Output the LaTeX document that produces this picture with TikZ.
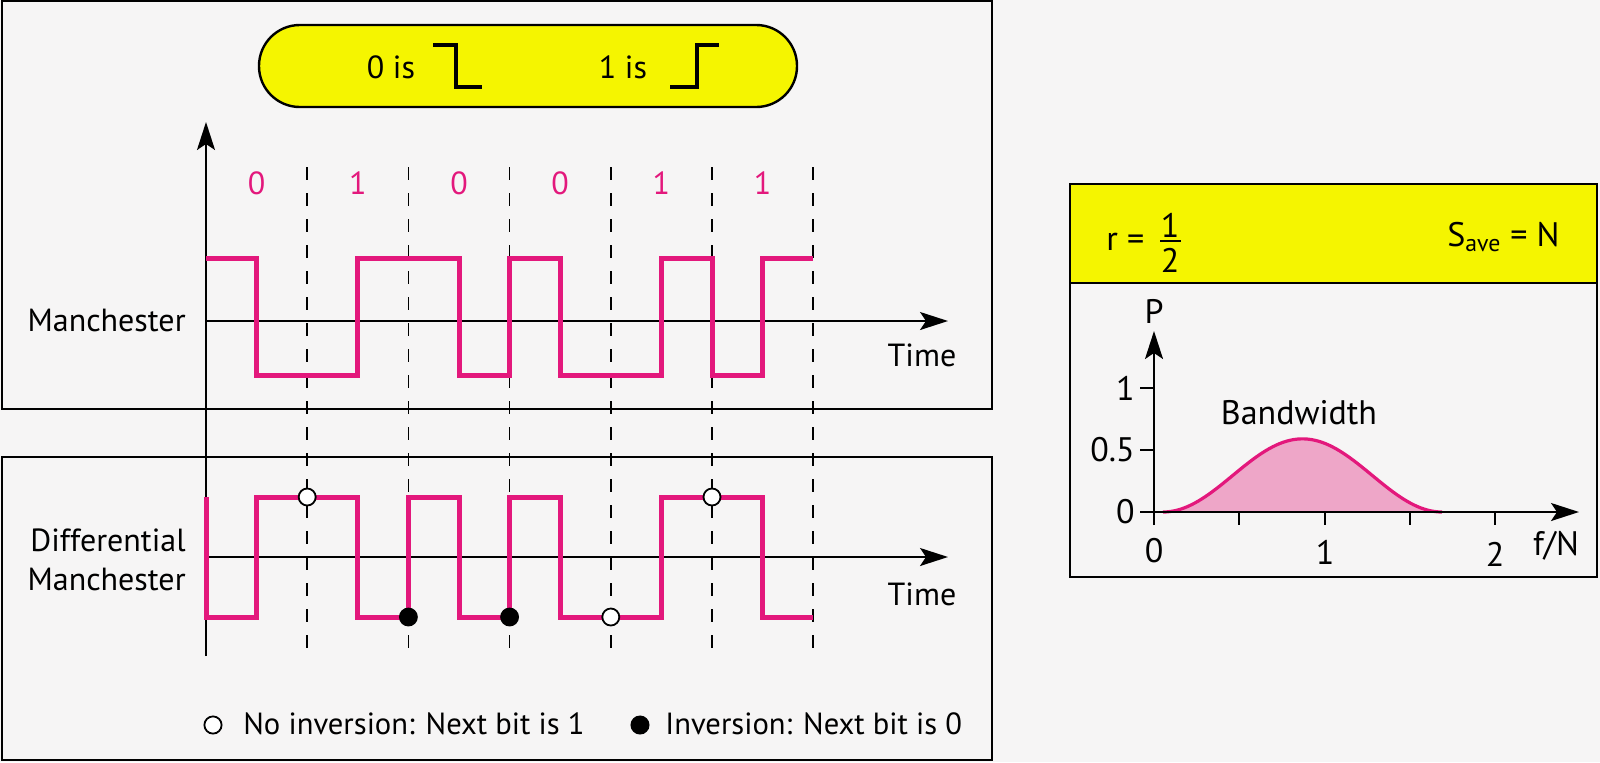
\documentclass[tikz,border=0pt]{standalone}
\usepackage{fontspec}
\setmainfont{PT Sans}
\usetikzlibrary{arrows.meta}
\definecolor{mag}{HTML}{E3187C}
\definecolor{pinkfill}{HTML}{EEA6C8}
\definecolor{yel}{HTML}{F5F500}
\definecolor{bg}{HTML}{F6F5F5}
\tikzset{
  txt/.style={font=\fontsize{16}{19}\selectfont, inner sep=0pt},
  legtxt/.style={font=\fontsize{15.3}{18}\selectfont, inner sep=0pt},
  bigtxt/.style={font=\fontsize{17}{20}\selectfont, inner sep=0pt},
  bitlbl/.style={txt, text=mag},
  frame/.style={draw=black, line width=1.2pt, fill=bg},
  sig/.style={draw=mag, line width=2.5pt, line join=miter},
  axisline/.style={draw=black, line width=1pt},
  axisarrow/.style={axisline, -{Stealth[length=14pt, width=9pt, inset=3pt]}},
  guide/.style={draw=black, line width=0.85pt, dash pattern=on 6.5pt off 6.5pt},
  stepsym/.style={draw=black, line width=2pt},
  opendot/.style={circle, draw=black, line width=0.9pt, fill=white, minimum size=8.5pt, inner sep=0pt},
  fulldot/.style={circle, draw=black, line width=0.9pt, fill=black, minimum size=8.5pt, inner sep=0pt},
  legopen/.style={opendot, minimum size=8.6pt},
  legfull/.style={fulldot, minimum size=8.6pt},
  tick/.style={draw=black, line width=0.9pt},
}
\begin{document}
\begin{tikzpicture}[x=0.5pt, y=-0.5pt]
\fill[bg] (0,0) rectangle (1600,762);
\useasboundingbox (0,0) rectangle (1600,762);

% frames
\path[frame] (2,1) rectangle (992,409);
\path[frame] (2,457) rectangle (992,760);

% legend pill
\node[draw=black, line width=1.2pt, fill=yel, rounded corners=20.4pt, minimum width=269pt, minimum height=41pt] (pill) at (528,66) {};
\node[txt] (zero) at (391,67) {0 is};
\node[txt] (one) at (623,67) {1 is};
\coordinate (za) at (433,45); \coordinate (zb) at (456,45); \coordinate (zc) at (456,87); \coordinate (zd) at (482,87);
\draw[stepsym] (za) -- (zb) -- (zc) -- (zd);
\coordinate (oa) at (670,87); \coordinate (ob) at (697,87); \coordinate (oc) at (697,45); \coordinate (od) at (719,45);
\draw[stepsym] (oa) -- (ob) -- (oc) -- (od);

% guides
\foreach \i/\xx in {1/307.2, 2/408.4, 3/509.6, 4/610.8, 5/712, 6/813.2} {
  \coordinate (gt\i) at (\xx,167);
  \coordinate (gb\i) at (\xx,656);
  \draw[guide] (gt\i) -- (gb\i);
}

% bit labels
\foreach \i/\xx/\b in {1/256.6/0, 2/357.8/1, 3/459/0, 4/560.2/0, 5/661.4/1, 6/762.6/1} {
  \node[bitlbl] (bit\i) at (\xx,183) {\b};
}

% axes
\coordinate (vbot) at (206,656);
\coordinate (vtop) at (206,122);
\draw[axisarrow] (vbot) -- (vtop);
\coordinate (m0) at (206,321);
\coordinate (m1) at (948,321);
\draw[axisarrow] (m0) -- (m1);
\coordinate (d0) at (206,557);
\coordinate (d1) at (948,557);
\draw[axisarrow] (d0) -- (d1);

\node[txt, anchor=east] (manlbl) at (186,320) {Manchester};
\node[txt] (time1) at (922,355) {Time};
\node[txt, anchor=east] (difflbl1) at (186,540) {Differential};
\node[txt, anchor=east] (difflbl2) at (186,579) {Manchester};
\node[txt] (time2) at (922,594) {Time};

% Manchester signal
\draw[sig] (206,258) -- (256.6,258) -- (256.6,375) -- (357.8,375) -- (357.8,258) -- (459,258) -- (459,375) -- (509.6,375) -- (509.6,258) -- (560.2,258) -- (560.2,375) -- (661.4,375) -- (661.4,258) -- (712,258) -- (712,375) -- (762.6,375) -- (762.6,258) -- (813.2,258);

% Differential Manchester signal
\draw[sig] (206,497) -- (206,617) -- (256.6,617) -- (256.6,497) -- (357.8,497) -- (357.8,617) -- (408.4,617) -- (408.4,497) -- (459,497) -- (459,617) -- (509.6,617) -- (509.6,497) -- (560.2,497) -- (560.2,617) -- (661.4,617) -- (661.4,497) -- (762.6,497) -- (762.6,617) -- (813.2,617);

\node[opendot] (c1) at (307.2,497) {};
\node[fulldot] (c2) at (408.4,617) {};
\node[fulldot] (c3) at (509.6,617) {};
\node[opendot] (c4) at (610.8,617) {};
\node[opendot] (c5) at (712,497) {};

% legend
\node[legopen] (lo) at (213,725) {};
\node[legtxt, anchor=west] (lot) at (243,724) {No inversion: Next bit is 1};
\node[legfull] (lf) at (640,725) {};
\node[legtxt, anchor=west] (lft) at (665,724) {Inversion: Next bit is 0};

% right panel
\path[frame] (1070,184) rectangle (1597,577);
\path[draw=black, line width=1.2pt, fill=yel] (1070,184) rectangle (1597,283);
\node[bigtxt, anchor=west] (req) at (1106,242) {r =};
\node[bigtxt] (num) at (1170,225) {1};
\node[bigtxt] (den) at (1170,260) {2};
\coordinate (fl) at (1160,241);
\coordinate (fr) at (1181,241);
\draw[line width=0.8pt] (fl) -- (fr);
\node[bigtxt, anchor=east] (save) at (1560,237) {S\textsubscript{ave} = N};

% plot
\fill[pinkfill] plot[domain=-1:1, samples=80] ({1302.5+139.5*\x}, {512 - 36.58*(1+cos(180*\x))}) -- cycle;
\draw[draw=mag, line width=1.6pt] plot[domain=-1:1, samples=80] ({1302.5+139.5*\x}, {512 - 36.58*(1+cos(180*\x))});
\coordinate (py0) at (1154,525);
\coordinate (py1) at (1154,331);
\draw[axisarrow] (py0) -- (py1);
\coordinate (px0) at (1140,512);
\coordinate (px1) at (1579,512);
\draw[axisarrow] (px0) -- (px1);
\node[bigtxt] (plbl) at (1154,311) {P};
\foreach \yy in {388,450} { \draw[tick] (1140,\yy) -- (1154,\yy); }
\foreach \xx in {1239,1325,1410,1495} { \draw[tick] (\xx,512) -- (\xx,525); }
\node[bigtxt, anchor=east] (y1) at (1135,388) {1};
\node[bigtxt, anchor=east] (y05) at (1135,450) {0.5};
\node[bigtxt, anchor=east] (y0) at (1135,512) {0};
\node[bigtxt] (x0) at (1154,551) {0};
\node[bigtxt] (x1) at (1325,552) {1};
\node[bigtxt] (x2) at (1495,554) {2};
\node[bigtxt] (fn) at (1556,546) {f/N};
\node[bigtxt] (bw) at (1299,413) {Bandwidth};
\end{tikzpicture}
\end{document}
